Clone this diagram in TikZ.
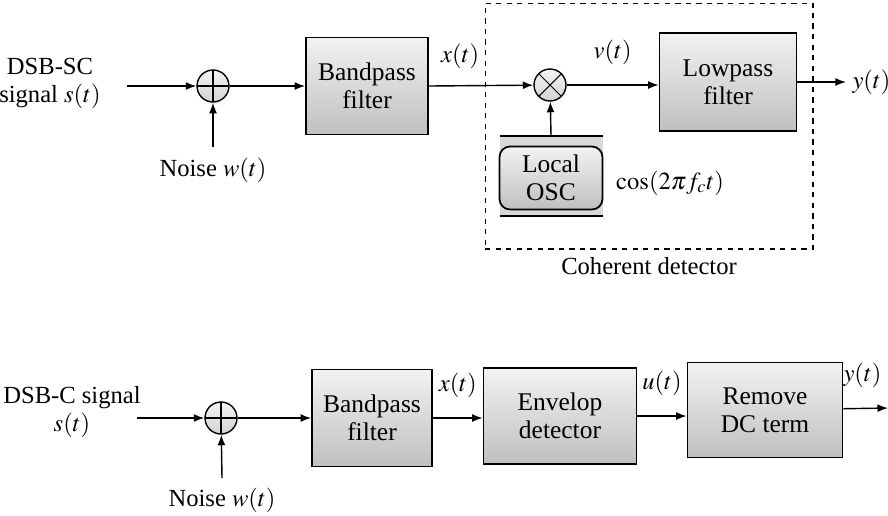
\documentclass[tikz,border=0pt]{standalone}
\usepackage{mathptmx}
\usepackage{fontspec}
\setmainfont{Liberation Serif}
\usetikzlibrary{arrows.meta,positioning,calc,shapes.geometric}

\tikzset{
  block/.style={draw,line width=1pt,top color=gray!10,bottom color=gray!50,align=center,inner sep=2pt,
    font=\fontsize{14.5}{16}\selectfont},
  junction/.style={draw,line width=0.8pt,circle,minimum size=0.64cm,inner sep=0pt,top color=gray!8,bottom color=gray!35},
  plus/.style={path picture={\draw[line width=0.6pt] (path picture bounding box.north) -- (path picture bounding box.south)
      (path picture bounding box.west) -- (path picture bounding box.east);}},
  times/.style={path picture={\draw[line width=0.6pt] (path picture bounding box.north west) -- (path picture bounding box.south east)
      (path picture bounding box.south west) -- (path picture bounding box.north east);}},
  sig/.style={line width=0.8pt,-{Latex[length=6pt,width=4.5pt]}},
  oscbar/.style={line width=1.3pt},
}

\begin{document}
\begin{tikzpicture}[x=0.02cm,y=-0.02cm,every node/.style={font=\fontsize{14}{16}\selectfont}]
\useasboundingbox (0,0) rectangle (888,515);

% coherent receiver for DSB-SC
\node (in1) [align=center] at (50,83) {DSB-SC\\signal $s(t)$};
\coordinate (s1) at (127,86);
\node (sum1) [junction,plus] at (213,86) {};
\node (nz1) at (213,170) {Noise $w(t)$};
\coordinate (w1) at (213,147);
\node (bp1) [block,minimum width=2.44cm,minimum height=1.94cm] at (367,86) {Bandpass\\filter};
\node (mult) [junction,times] at (550,85) {};
\node (lp) [block,minimum width=2.74cm,minimum height=1.96cm] at (728,82) {Lowpass\\filter};
\coordinate (y1) at (846,82);
% oscillator sits on a grey plate with dark edges
\fill[gray!30] (500,136) rectangle (603,216);
\node (osc) [block,rounded corners=6pt,minimum width=2.06cm,minimum height=1.26cm] at (551,178) {Local\\OSC};
\coordinate (oscTop) at (551,136);
\draw[oscbar] (500,136) -- (603,136);
\draw[oscbar] (500,216) -- (603,216);
\node (lo) [anchor=west] at (610,183) {$\cos(2\pi f_c t)$};
\node (coh) [draw,dashed,line width=0.6pt,minimum width=6.56cm,minimum height=4.92cm] at (649,126) {};
\node (cohlab) [below=1pt of coh] {Coherent detector};

\draw[sig] (s1) -- (sum1);
\draw[sig] (w1) -- (sum1);
\draw[sig] (sum1) -- (bp1);
\draw[sig] (bp1.east) -- (mult) node[pos=0.3,above=6pt] {$x(t)$};
\draw[sig] (mult) -- (mult -| lp.west) node[midway,above=8pt] {$v(t)$};
\draw[sig] (oscTop) -- (mult);
\draw[sig] (lp) -- (y1) node[right] {$y(t)$};

% envelope receiver for DSB-C
\node (in2) [align=center] at (72,412) {DSB-C signal\\$s(t)$};
\coordinate (s2) at (137,418);
\node (sum2) [junction,plus] at (221,418) {};
\node (nz2) at (222,500) {Noise $w(t)$};
\coordinate (w2) at (222,478);
\node (bp2) [block,minimum width=2.4cm,minimum height=1.94cm] at (372,418) {Bandpass\\filter};
\node (env) [block,minimum width=3.06cm,minimum height=1.92cm] at (560,416) {Envelop\\detector};
\node (rm) [block,minimum width=3.1cm,minimum height=1.9cm] at (765,410) {Remove\\DC term};
\coordinate (y2) at (888,408);

\draw[sig] (s2) -- (sum2);
\draw[sig] (w2) -- (sum2);
\draw[sig] (sum2) -- (sum2 -| bp2.west);
\draw[sig] (bp2) -- (bp2 -| env.west) node[midway,above=8pt] {$x(t)$};
\draw[sig] (env) -- (env -| rm.west) node[midway,above=8pt] {$u(t)$};
\draw[sig] (rm) -- (y2) node[pos=1,above=8pt,anchor=south east] {$y(t)$};
\end{tikzpicture}
\end{document}
